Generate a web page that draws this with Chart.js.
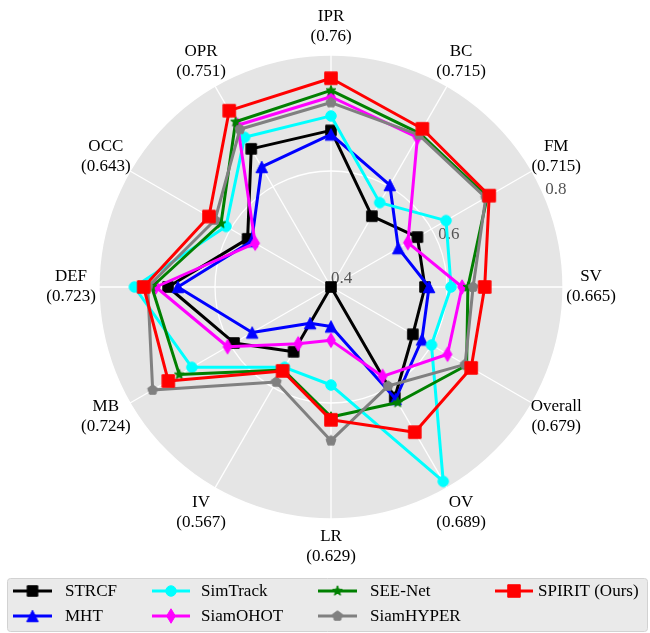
<!DOCTYPE html>
<html>
<head>
<meta charset="utf-8">
<script src="https://cdn.jsdelivr.net/npm/chart.js@4.4.1/dist/chart.umd.min.js"></script>
<style>
  html, body { margin: 0; padding: 0; background: #ffffff; }
  #wrap { width: 650px; height: 633px; }
</style>
</head>
<body>
<div id="wrap"><canvas id="radar" width="650" height="633"></canvas></div>
<script>
// Attributes around the radar, clockwise from the top
const attributes = ['IPR', 'BC', 'FM', 'SV', 'Overall', 'OV', 'LR', 'IV', 'MB', 'DEF', 'OCC', 'OPR'];

// Per-attribute scores of each tracker
const strcf     = [0.670, 0.541, 0.572, 0.562, 0.563, 0.620, 0.400, 0.529, 0.593, 0.681, 0.566, 0.675];
const mht       = [0.663, 0.603, 0.534, 0.569, 0.581, 0.623, 0.468, 0.472, 0.557, 0.664, 0.558, 0.639];
const simTrack  = [0.695, 0.568, 0.629, 0.607, 0.600, 0.787, 0.569, 0.560, 0.677, 0.739, 0.609, 0.698];
const siamOHOT  = [0.728, 0.698, 0.553, 0.626, 0.632, 0.578, 0.492, 0.513, 0.606, 0.702, 0.551, 0.722];
const seeNet    = [0.739, 0.706, 0.711, 0.636, 0.670, 0.630, 0.624, 0.565, 0.702, 0.709, 0.619, 0.729];
const siamHYPER = [0.718, 0.703, 0.708, 0.645, 0.667, 0.597, 0.665, 0.589, 0.755, 0.716, 0.631, 0.714];
const spirit    = [0.76, 0.715, 0.715, 0.665, 0.679, 0.689, 0.629, 0.567, 0.724, 0.723, 0.643, 0.751];

// Radial axis
const radialMin = 0.4;
const radialMax = 0.8;
const radialTicks = [0.4, 0.6, 0.8];

const trackerNames = ['STRCF', 'MHT', 'SimTrack', 'SiamOHOT', 'SEE-Net', 'SiamHYPER', 'SPIRIT (Ours)'];
const trackerScores = [strcf, mht, simTrack, siamOHOT, seeNet, siamHYPER, spirit];

const styles = [
  { color: '#000000', shape: 'square',      size: 10.5 },
  { color: '#0000ff', shape: 'triangle',    size: 11.5 },
  { color: '#00ffff', shape: 'circle',      size: 10.5 },
  { color: '#ff00ff', shape: 'thinDiamond', size: 14.5 },
  { color: '#008000', shape: 'star',        size: 10.5 },
  { color: '#808080', shape: 'pentagon',    size: 10.5 },
  { color: '#ff0000', shape: 'square',      size: 12.5 }
];

const SERIF = '"Liberation Serif", "Times New Roman", serif';

// Small bitmap markers used as point styles
function markerCanvas(shape, color, size) {
  const n = 24;
  const cv = document.createElement('canvas');
  cv.width = n; cv.height = n;
  const g = cv.getContext('2d');
  const c = n / 2, h = size / 2;
  g.fillStyle = color; g.strokeStyle = color; g.lineWidth = 1;
  g.beginPath();
  if (shape === 'square') {
    g.rect(c - h, c - h, size, size);
  } else if (shape === 'circle') {
    g.arc(c, c, h, 0, Math.PI * 2);
  } else if (shape === 'triangle') {
    g.moveTo(c, c - h); g.lineTo(c + h, c + h); g.lineTo(c - h, c + h); g.closePath();
  } else if (shape === 'thinDiamond') {
    g.moveTo(c, c - h); g.lineTo(c + h * 0.6, c); g.lineTo(c, c + h); g.lineTo(c - h * 0.6, c); g.closePath();
  } else if (shape === 'star') {
    for (let k = 0; k < 10; k++) {
      const rr = k % 2 ? h * 0.42 : h;
      const a = -Math.PI / 2 + k * Math.PI / 5;
      const px = c + rr * Math.cos(a), py = c + rr * Math.sin(a);
      if (k === 0) g.moveTo(px, py); else g.lineTo(px, py);
    }
    g.closePath();
  } else if (shape === 'pentagon') {
    for (let k = 0; k < 5; k++) {
      const a = -Math.PI / 2 + k * 2 * Math.PI / 5;
      const px = c + h * Math.cos(a), py = c + h * Math.sin(a);
      if (k === 0) g.moveTo(px, py); else g.lineTo(px, py);
    }
    g.closePath();
  }
  g.fill(); g.stroke();
  return cv;
}

const markers = styles.map(s => markerCanvas(s.shape, s.color, s.size));

const datasets = trackerNames.map((name, i) => ({
  label: name,
  data: trackerScores[i],
  borderColor: styles[i].color,
  backgroundColor: styles[i].color,
  borderWidth: 3,
  borderJoinStyle: 'round',
  borderCapStyle: 'round',
  fill: false,
  tension: 0,
  pointStyle: markers[i],
  pointRadius: 6,
  pointHoverRadius: 6,
  order: trackerNames.length - i
}));

// Attribute names with the SPIRIT score underneath, in parentheses
const axisLabels = attributes.map((a, i) => [a, '(' + String(spirit[i]) + ')']);

const annotations = {
  id: 'annotations',
  beforeDatasetsDraw(chart) {
    const scale = chart.scales.r;
    const ctx = chart.ctx;
    ctx.save();
    ctx.font = '17px ' + SERIF;
    ctx.fillStyle = '#555555';
    ctx.textAlign = 'left';
    ctx.textBaseline = 'bottom';
    const ang = 22.5 * Math.PI / 180;
    radialTicks.forEach(v => {
      const d = scale.getDistanceFromCenterForValue(v);
      const x = scale.xCenter + d * Math.cos(ang);
      const y = scale.yCenter - d * Math.sin(ang);
      ctx.fillText(v.toFixed(1), x, y);
    });
    ctx.restore();
  },
  afterDraw(chart) {
    const scale = chart.scales.r;
    const ctx = chart.ctx;
    ctx.save();
    ctx.font = '17px ' + SERIF;
    ctx.fillStyle = '#000000';
    ctx.textAlign = 'center';
    ctx.textBaseline = 'middle';
    axisLabels.forEach((lines, i) => {
      const p = scale.getPointPosition(i, scale.drawingArea + 28);
      ctx.fillText(lines[0], p.x, p.y - 10);
      ctx.fillText(lines[1], p.x, p.y + 10);
    });

    // Legend: four columns, filled column by column
    const bx = 7.5, by = 578.5, bw = 640, bh = 53;
    ctx.beginPath();
    ctx.roundRect(bx, by, bw, bh, 3);
    ctx.fillStyle = '#eaeaea';
    ctx.fill();
    ctx.strokeStyle = '#d2d2d2';
    ctx.lineWidth = 1;
    ctx.stroke();

    const colLine = [[13, 52], [152, 190], [318, 357], [495, 533]];
    const colText = [65, 201, 370, 538];
    const rowY = [591, 616];
    trackerNames.forEach((name, i) => {
      const col = Math.floor(i / 2), row = i % 2;
      const [x0, x1] = colLine[col];
      const y = rowY[row];
      ctx.beginPath();
      ctx.moveTo(x0, y); ctx.lineTo(x1, y);
      ctx.strokeStyle = styles[i].color;
      ctx.lineWidth = 3;
      ctx.stroke();
      const m = markers[i];
      ctx.drawImage(m, (x0 + x1) / 2 - m.width / 2, y - m.height / 2);
      ctx.fillStyle = '#000000';
      ctx.textAlign = 'left';
      ctx.fillText(name, colText[col], y + 1);
    });
    ctx.restore();
  }
};

new Chart(document.getElementById('radar'), {
  type: 'radar',
  data: { labels: attributes, datasets },
  options: {
    responsive: false,
    devicePixelRatio: 1,
    animation: false,
    events: [],
    layout: { padding: { left: 99, top: 55, right: 87, bottom: 114 } },
    plugins: { legend: { display: false }, tooltip: { enabled: false } },
    scales: {
      r: {
        min: radialMin,
        max: radialMax,
        backgroundColor: '#e5e5e5',
        ticks: { display: false, stepSize: 0.2 },
        grid: { circular: true, color: '#ffffff', lineWidth: 1.3 },
        angleLines: { display: true, color: '#ffffff', lineWidth: 1.3 },
        pointLabels: { display: false }
      }
    }
  },
  plugins: [annotations]
});
</script>
</body>
</html>
